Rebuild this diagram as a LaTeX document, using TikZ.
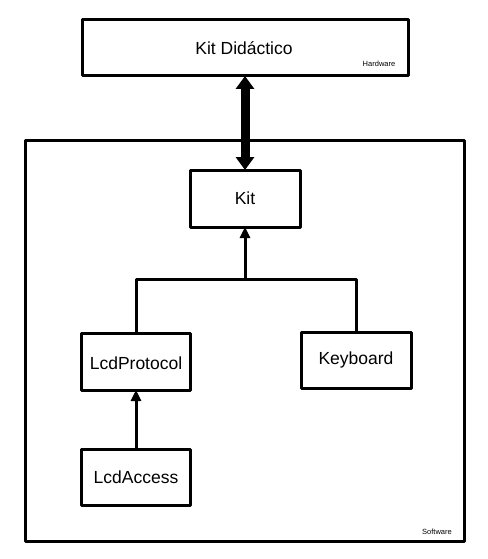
\documentclass[tikz,border=0pt]{standalone}
\usepackage{fontspec}
\setmainfont{Liberation Sans}
\usetikzlibrary{arrows.meta}
\tikzset{
  box/.style={draw, line width=3pt, line join=round, inner sep=0pt, outer sep=0pt, anchor=north west},
  lbl/.style={font=\fontsize{17.5}{20}\selectfont, inner sep=0pt},
  tiny/.style={font=\fontsize{7.5}{9}\selectfont, inner sep=0pt},
  link/.style={line width=3pt, -{Triangle[width=10pt,length=11pt]}},
  big/.style={line width=9pt, {Triangle[width=18pt,length=13pt]}-{Triangle[width=18pt,length=13pt]}}
}
\begin{document}
\begin{tikzpicture}[x=1pt,y=-1pt]
\useasboundingbox (0,0) rectangle (487,559);
% outer software frame
\node[box, minimum width=439pt, minimum height=401pt] (sw) at (25,140.5) {};
\node[tiny] (swl) at (437,532) {Software};
% hardware box
\node[box, minimum width=326pt, minimum height=56pt] (hw) at (82.5,20) {};
\node[lbl] (hwt) at (244,48) {Kit Didáctico};
\node[tiny] (hwl) at (379,64) {Hardware};
% Kit
\node[box, minimum width=110pt, minimum height=57pt] (kit) at (190,170) {};
\node[lbl] (kitt) at (245,198) {Kit};
% LcdProtocol
\node[box, minimum width=109pt, minimum height=57pt] (lp) at (81.5,333) {};
\node[lbl] (lpt) at (136,363) {LcdProtocol};
% Keyboard
\node[box, minimum width=110pt, minimum height=56pt] (kb) at (301,332) {};
\node[lbl] (kbt) at (356,360) {Keyboard};
% LcdAccess
\node[box, minimum width=109pt, minimum height=56pt] (la) at (81.5,449) {};
\node[lbl] (lat) at (136,477) {LcdAccess};
% junction
\coordinate (j) at (245,279);
% connectors
\draw[big] (hw.south -| kit.north) -- (kit.north);
\draw[line width=3pt, line join=round] (lp.north) |- (j) -| (kb.north);
\draw[link] (j) -- (kit.south);
\draw[link] (la.north) -- (lp.south);
\end{tikzpicture}
\end{document}
